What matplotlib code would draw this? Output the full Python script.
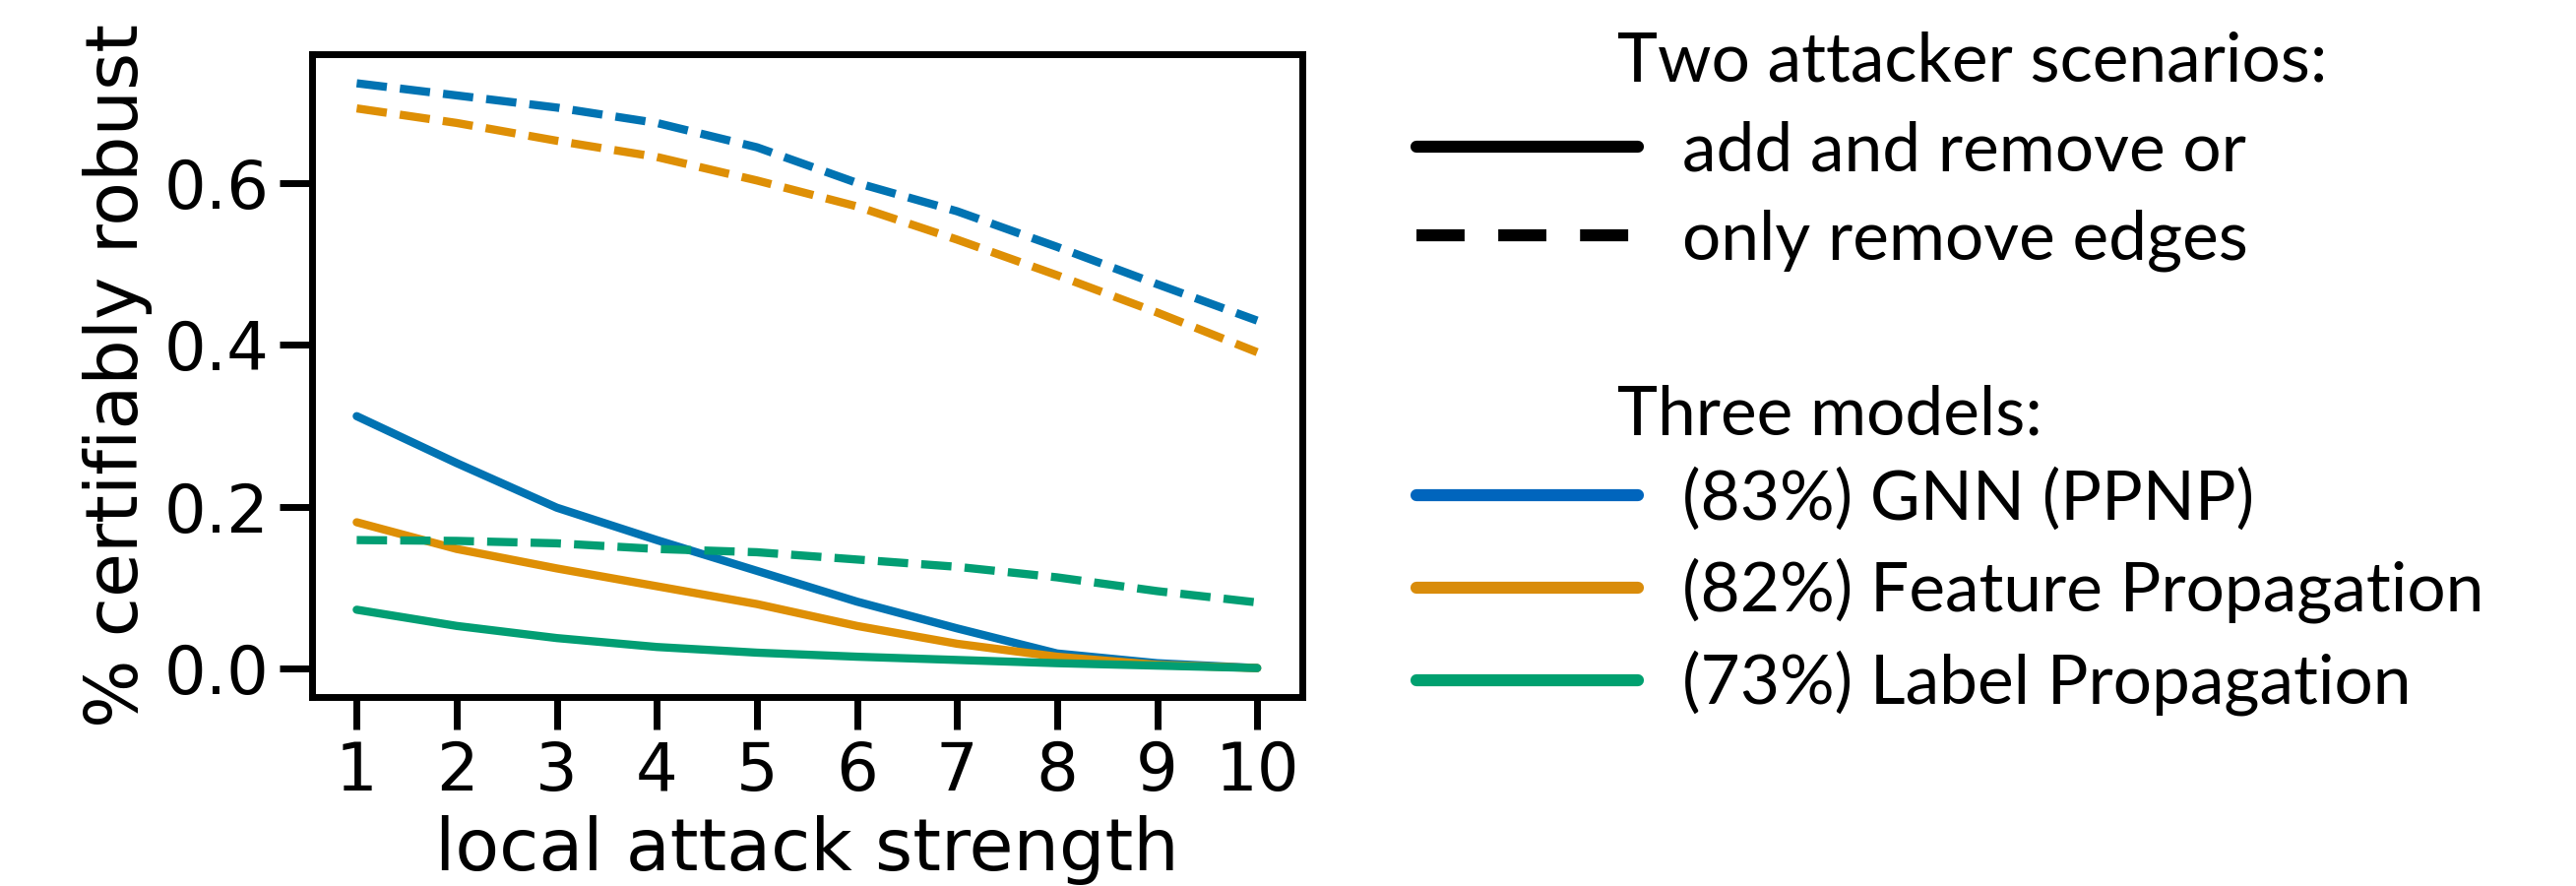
import matplotlib
matplotlib.use('Agg')
import matplotlib.pyplot as plt
from matplotlib.lines import Line2D
import seaborn as sns

# attack strength on the x axis
strength = [1, 2, 3, 4, 5, 6, 7, 8, 9, 10]

# add and remove edges (solid)
gnn_addrem = [0.312, 0.254, 0.199, 0.159, 0.121, 0.083, 0.050, 0.019, 0.007, 0.001]
fp_addrem = [0.181, 0.148, 0.124, 0.102, 0.080, 0.053, 0.031, 0.015, 0.005, 0.001]
lp_addrem = [0.073, 0.053, 0.038, 0.027, 0.020, 0.015, 0.011, 0.007, 0.004, 0.001]

# only remove edges (dashed)
gnn_rem = [0.723, 0.708, 0.693, 0.674, 0.644, 0.600, 0.565, 0.521, 0.475, 0.430]
fp_rem = [0.692, 0.674, 0.652, 0.632, 0.603, 0.571, 0.530, 0.486, 0.440, 0.391]
lp_rem = [0.159, 0.158, 0.155, 0.148, 0.144, 0.135, 0.126, 0.113, 0.096, 0.082]

model_labels = ['(83%) GNN (PPNP)', '(82%) Feature Propagation', '(73%) Label Propagation']
scenario_labels = ['add and remove or', 'only remove edges']

black = {'axes.edgecolor': 'black', 'text.color': 'black', 'axes.labelcolor': 'black',
         'xtick.color': 'black', 'ytick.color': 'black'}
sns.set_style('ticks', rc=black)
sns.set_context('poster', font_scale=1.1)
colors = sns.color_palette('colorblind')[:3]
legend_colors = ['#0065bd', '#d98c0b', '#00a06f']

fig = plt.figure(figsize=(13.085, 4.5), dpi=200)
ax = fig.add_axes([0.121, 0.213, 0.3845, 0.726])

for solid, dashed, c in zip([gnn_addrem, fp_addrem, lp_addrem],
                            [gnn_rem, fp_rem, lp_rem], colors):
    ax.plot(strength, solid, color=c, lw=3)
    ax.plot(strength, dashed, color=c, lw=3, ls='--')

ax.set_xticks(strength)
ax.set_yticks([0.0, 0.2, 0.4, 0.6])
ax.set_xlabel('local attack strength')
ax.set_ylabel('% certifiably robust')

lfont = {'family': 'Lato', 'size': 25}

# legend for the two scenarios
h1 = [Line2D([], [], color='k', lw=4.4),
      Line2D([], [], color='k', lw=4.4, dashes=(4, 2.8))]
leg1 = fig.legend(h1, scenario_labels, loc='center left', bbox_to_anchor=(0.5497, 0.779),
                  frameon=False, borderpad=0, borderaxespad=0, handlelength=3.24,
                  handletextpad=0.65, labelspacing=0.39, prop=lfont)

# legend for the three models
h2 = [Line2D([], [], color=c, lw=4.4) for c in legend_colors]
leg2 = fig.legend(h2, model_labels, loc='center left', bbox_to_anchor=(0.5497, 0.332),
                  frameon=False, borderpad=0, borderaxespad=0, handlelength=3.24,
                  handletextpad=0.65, labelspacing=0.39, prop=lfont)

fig.text(0.628, 0.9295, 'Two attacker scenarios:', fontdict=lfont, va='center', ha='left')
fig.text(0.628, 0.5306, 'Three models:', fontdict=lfont, va='center', ha='left')

fig.savefig('out.png', dpi=200)
